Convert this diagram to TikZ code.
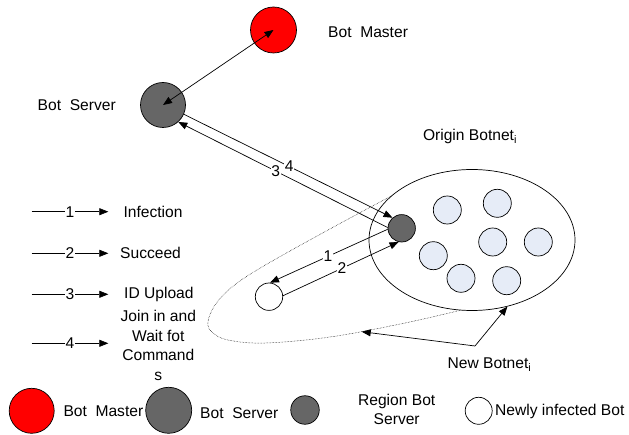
\documentclass[tikz,border=0pt]{standalone}
\usepackage{fontspec}
\setmainfont{Liberation Sans}
\usetikzlibrary{shapes.geometric,arrows.meta}
\definecolor{dgray}{HTML}{666666}
\definecolor{lblue}{HTML}{E6ECF7}
\begin{document}
\begin{tikzpicture}[x=1pt,y=-1pt,
  font=\fontsize{15.6}{19.7}\selectfont,
  bot/.style={circle,draw,line width=0.7pt,inner sep=0pt},
  arr/.style={line width=0.7pt,-{Triangle[length=9pt,width=7pt]}},
  darr/.style={line width=0.7pt,{Triangle[length=9pt,width=7pt]}-{Triangle[length=9pt,width=7pt]}},
  lbl/.style={fill=white,inner sep=0.8pt},
  txt/.style={inner sep=0pt}]
\useasboundingbox (0,0) rectangle (629,435);

% dotted outline of the new botnet
\draw[densely dotted,line width=0.5pt] plot[smooth,tension=0.6] coordinates
  {(470,308) (405,323) (330,337) (265,343) (228,340) (212,332) (208,322)
   (215,305) (232,287) (262,267) (328,230) (395,194)};

% origin botnet
\node[ellipse,draw,fill=white,minimum width=206pt,minimum height=141pt,inner sep=0pt,line width=0.7pt] (orig) at (472,240) {};
\node[bot,fill=lblue,minimum size=28pt] (lb1) at (447.3,210) {};
\node[bot,fill=lblue,minimum size=28pt] (lb2) at (497.3,203.3) {};
\node[bot,fill=lblue,minimum size=28pt] (lb3) at (492.7,242) {};
\node[bot,fill=lblue,minimum size=28pt] (lb4) at (538.3,242) {};
\node[bot,fill=lblue,minimum size=28pt] (lb5) at (433.3,255.7) {};
\node[bot,fill=lblue,minimum size=28pt] (lb6) at (461,278.3) {};
\node[bot,fill=lblue,minimum size=28pt] (lb7) at (506.7,280.7) {};

% main bots
\node[bot,fill=red,minimum size=46pt] (bm) at (273.5,30) {};
\node[bot,fill=dgray,minimum size=45pt] (bs) at (163,105) {};
\node[bot,fill=dgray,minimum size=27.4pt] (rs) at (401.7,228.3) {};
\node[bot,fill=white,minimum size=27.4pt] (nb) at (269,296.7) {};

% connectors
\draw[darr] (bm.center) -- (bs.center);
\draw[arr] (rs.177) -- node[lbl,pos=0.535] {3} (bs.-48);
\draw[arr] (bs.-24) -- node[lbl,pos=0.505] {4} (rs.131);
\draw[arr] (rs.184) -- node[lbl,pos=0.507] {1} (nb.86);
\draw[arr] (nb.4) -- node[lbl,pos=0.51] {2} (rs.257);

% labels
\node[txt,anchor=west] (tbm) at (328,32) {Bot\ \ Master};
\node[txt] (tbs) at (76.7,105) {Bot\ \ Server};
\node[txt] (torig) at (470,136.7) {Origin Botnet\textsubscript{i}};
\node[txt] (tnew) at (489.5,365) {New Botnet\textsubscript{i}};
\coordinate (nbv) at (475,346);
\coordinate (dtip) at (361.7,331.7);
\draw[arr] (nbv) -- (dtip);
\draw[arr] (nbv) -- (orig.-62);

% legend of the steps
\coordinate (l1a) at (31.7,211.7); \coordinate (l1b) at (108.3,211.7);
\coordinate (l2a) at (31.7,253.3); \coordinate (l2b) at (108.3,253.3);
\coordinate (l3a) at (31.7,294.3); \coordinate (l3b) at (108.3,294.3);
\coordinate (l4a) at (31.7,343.3); \coordinate (l4b) at (108.3,343.3);
\draw[arr] (l1a) -- node[lbl] {1} (l1b);
\draw[arr] (l2a) -- node[lbl] {2} (l2b);
\draw[arr] (l3a) -- node[lbl] {3} (l3b);
\draw[arr] (l4a) -- node[lbl] {4} (l4b);
\node[txt,anchor=west] (s1) at (123.3,211.7) {Infection};
\node[txt,anchor=west] (s2) at (120,253.3) {Succeed};
\node[txt,anchor=west] (s3) at (124,294.3) {ID Upload};
\node[txt,align=center] (s4) at (158.3,345.5) {Join in and\\Wait fot\\Command\\s};

% bottom legend
\node[bot,fill=red,minimum size=45pt] (kbm) at (31.7,410.8) {};
\node[txt,anchor=west] (kbmt) at (63.3,411) {Bot\ \ Master};
\node[bot,fill=dgray,minimum size=46pt] (kbs) at (168.7,410.3) {};
\node[txt,anchor=west] (kbst) at (200,413) {Bot\ \ Server};
\node[bot,fill=dgray,minimum size=28.5pt] (krs) at (305,410) {};
\node[txt,align=center] (krst) at (396.7,409.5) {Region Bot\\Server};
\node[bot,fill=white,minimum size=27pt] (knb) at (478.7,410.8) {};
\node[txt,anchor=west] (knbt) at (495,411.5) {Newly infected Bot};
\end{tikzpicture}
\end{document}
